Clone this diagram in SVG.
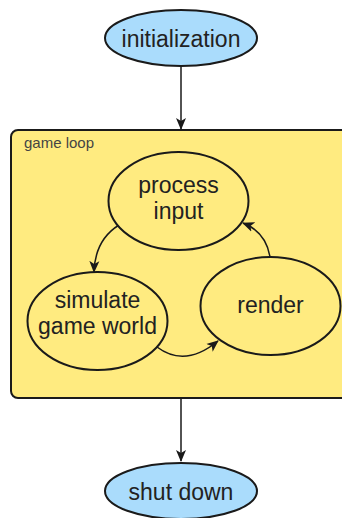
<svg xmlns="http://www.w3.org/2000/svg" width="342" height="518" viewBox="0 0 342 518">
<style>
.term{fill:#aadcfc;stroke:#1a1a1a;stroke-width:2}
.step{fill:#ffeb80;stroke:#1a1a1a;stroke-width:2}
.lbl{font-family:"Liberation Sans",Arial,sans-serif;font-size:23px;fill:#222;text-anchor:middle}
.small{font-family:"Liberation Sans",Arial,sans-serif;font-size:15px;fill:#444}
.edge{fill:none;stroke:#1a1a1a;stroke-width:1.5}
</style>
<defs>
<marker id="ah" viewBox="0 0 12 12" refX="11" refY="6" markerWidth="12" markerHeight="12" markerUnits="userSpaceOnUse" orient="auto">
<path d="M0,1 L12,6 L0,11 L3,6 Z" fill="#1a1a1a"/>
</marker>
</defs>
<g id="game-loop">
<rect x="11" y="130" width="345" height="268" rx="7" fill="#ffeb80" stroke="#1a1a1a" stroke-width="2"/>
<text class="small" x="24" y="148">game loop</text>
</g>
<g id="connectors">
<path class="edge" d="M181,67 L181,129" marker-end="url(#ah)"/>
<path class="edge" d="M181,399 L181,461" marker-end="url(#ah)"/>
<path class="edge" d="M119,225 Q95,240 94,272" marker-end="url(#ah)"/>
<path class="edge" d="M157,347 Q185,368 218,341" marker-end="url(#ah)"/>
<path class="edge" d="M270,257 Q266,232 243,223" marker-end="url(#ah)"/>
</g>
<g id="initialization">
<ellipse class="term" cx="181" cy="38" rx="76" ry="28"/>
<text class="lbl" x="181" y="47">initialization</text>
</g>
<g id="process-input">
<ellipse class="step" cx="178.5" cy="201" rx="70" ry="49"/>
<text class="lbl" x="178.5" y="193">process</text>
<text class="lbl" x="178.5" y="219">input</text>
</g>
<g id="simulate">
<ellipse class="step" cx="97.5" cy="321" rx="70" ry="49"/>
<text class="lbl" x="97.5" y="308">simulate</text>
<text class="lbl" x="97.5" y="334">game world</text>
</g>
<g id="render">
<ellipse class="step" cx="270.5" cy="306" rx="70" ry="49"/>
<text class="lbl" x="270.5" y="313">render</text>
</g>
<g id="shut-down">
<ellipse class="term" cx="181" cy="491" rx="76" ry="28"/>
<text class="lbl" x="181" y="500">shut down</text>
</g>
</svg>
